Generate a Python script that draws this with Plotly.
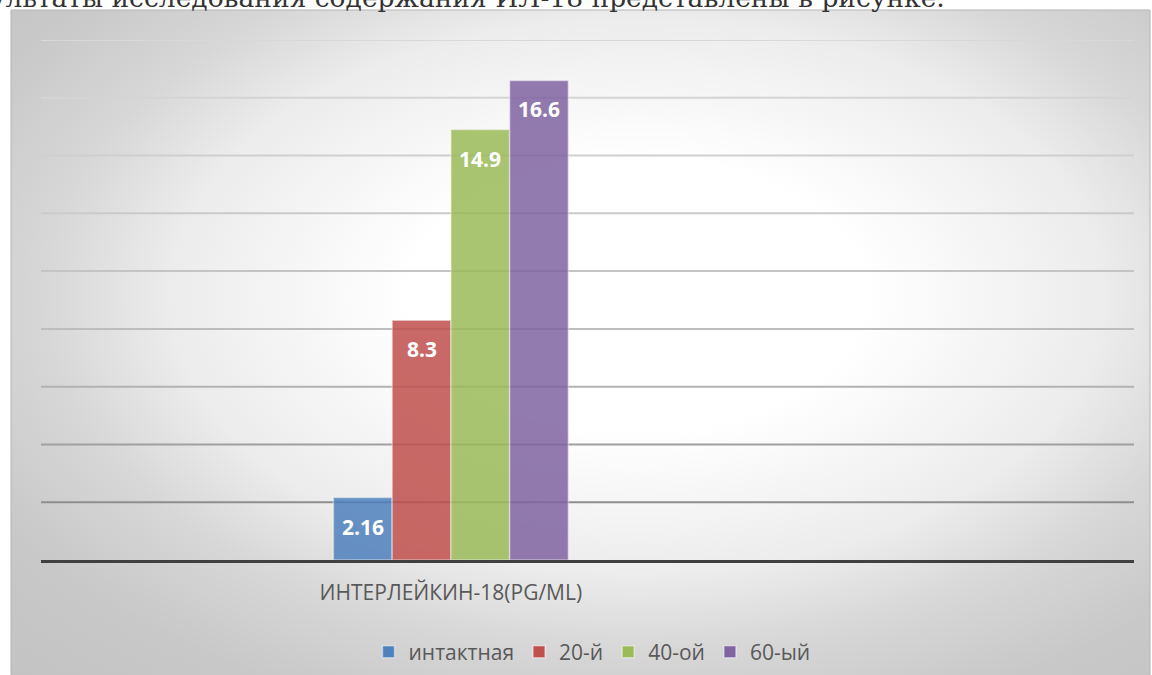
import base64
import plotly.graph_objects as go

# ---------------- data ----------------
categories = ["ИНТЕРЛЕЙКИН-18(PG/ML)"]
series_names = ["интактная", "20-й", "40-ой", "60-ый"]
intact_values = [2.16]
day20_values = [8.3]
day40_values = [14.9]
day60_values = [16.6]
series_values = [intact_values, day20_values, day40_values, day60_values]
series_colors = ["#4F81BD", "#C0504D", "#9BBB59", "#8064A2"]
grid_values = [2, 4, 6, 8, 10, 12, 14, 16, 18]
grid_colors = ["#8e8e8e", "#a0a0a0", "#b2b2b2", "#bdbdbd", "#c4c4c4",
               "#cacaca", "#cfcfcf", "#d4d4d4", "#d8d8d8"]
heading_text = "Результаты исследования содержания ИЛ-18 представлены в рисунке."
y_max = 18

# ---------------- layout geometry ----------------
W, H = 1152, 675
ML, MR, MT, MB = 41, 18, 40, 115
PW, PH = W - ML - MR, H - MT - MB
BARGAP = 0.57


def px_to_paper_x(px):
    return (px - ML) / PW


def px_to_paper_y(py):
    return (H - MB - py) / PH


# radial gradient background as an svg image
frame_l, frame_r, frame_t, frame_b = 11, 1150, 10, 690
gw, gh = frame_r - frame_l, frame_b - frame_t
svg = (
    f'<svg xmlns="http://www.w3.org/2000/svg" width="{gw}" height="{gh}" '
    f'viewBox="0 0 {gw} {gh}" preserveAspectRatio="none">'
    '<defs><radialGradient id="g" cx="0.55" cy="0.42" r="1" '
    'gradientUnits="objectBoundingBox">'
    '<stop offset="0" stop-color="#ffffff"/>'
    '<stop offset="0.2" stop-color="#ffffff"/>'
    '<stop offset="0.41" stop-color="#ececec"/>'
    '<stop offset="0.52" stop-color="#d7d7d7"/>'
    '<stop offset="0.65" stop-color="#c8c8c8"/>'
    '<stop offset="1" stop-color="#bcbcbc"/>'
    '</radialGradient></defs>'
    f'<rect x="0" y="0" width="{gw}" height="{gh}" fill="url(#g)"/></svg>'
)
svg_uri = "data:image/svg+xml;base64," + base64.b64encode(svg.encode("utf-8")).decode()

fig = go.Figure()
for name, vals, col in zip(series_names, series_values, series_colors):
    fig.add_trace(go.Bar(
        name=name, x=categories, y=vals,
        marker=dict(color=col, opacity=0.85,
                    line=dict(color="rgba(255,255,255,0.45)", width=1.5)),
        hoverinfo="skip",
    ))

# data labels (inside end, Excel-style padding)
n = len(series_names)
group_w = 1 - BARGAP
bar_w = group_w / n
annotations = []
for i, vals in enumerate(series_values):
    for j, v in enumerate(vals):
        annotations.append(dict(
            x=j - group_w / 2 + bar_w * (i + 0.5), y=v, xref="x", yref="y",
            text=f"<b>{v:g}</b>", showarrow=False, yanchor="middle", yshift=-29,
            font=dict(family="Open Sans", size=21, color="#ffffff"),
        ))

# heading text of the document (cut at the top)
annotations.append(dict(
    x=px_to_paper_x(947), y=px_to_paper_y(15), xref="paper", yref="paper",
    xanchor="right", yanchor="bottom", showarrow=False, text=heading_text,
    font=dict(family="DejaVu Serif", size=26.5, color="#333333"),
))

shapes = [dict(
    type="rect", xref="paper", yref="paper",
    x0=px_to_paper_x(frame_l), x1=px_to_paper_x(frame_r),
    y0=px_to_paper_y(frame_b), y1=px_to_paper_y(frame_t),
    line=dict(color="#b4b4b4", width=1), fillcolor="rgba(0,0,0,0)", layer="below",
)]
for gv, gc in zip(grid_values, grid_colors):
    shapes.append(dict(type="line", xref="paper", yref="y", x0=0, x1=1, y0=gv, y1=gv,
                       line=dict(color=gc, width=2), layer="below"))

fig.update_layout(
    width=W, height=H,
    margin=dict(l=ML, r=MR, t=MT, b=MB, autoexpand=False),
    paper_bgcolor="#ffffff", plot_bgcolor="rgba(0,0,0,0)",
    barmode="group", bargap=BARGAP, bargroupgap=0,
    font=dict(family="Open Sans", color="#595959"),
    xaxis=dict(type="category", range=[-0.75, 1.25], showgrid=False, zeroline=False,
               showline=True, linecolor="#404040", linewidth=3, ticks="",
               tickfont=dict(family="Open Sans", size=21, color="#595959"),
               ticklabelstandoff=12, fixedrange=True),
    yaxis=dict(range=[0, y_max], showgrid=False, zeroline=False, showline=False,
               showticklabels=False, fixedrange=True),
    legend=dict(orientation="h", x=px_to_paper_x(592), xanchor="center",
                y=px_to_paper_y(652), yanchor="middle", bgcolor="rgba(0,0,0,0)",
                font=dict(family="Open Sans", size=21, color="#595959"),
                traceorder="normal"),
    images=[dict(source=svg_uri, xref="paper", yref="paper",
                 x=px_to_paper_x(frame_l), y=px_to_paper_y(frame_t),
                 sizex=gw / PW, sizey=gh / PH, xanchor="left", yanchor="top",
                 sizing="stretch", layer="below")],
    shapes=shapes,
    annotations=annotations,
    showlegend=True,
)

fig.write_html("out.html", config={"displayModeBar": False})
